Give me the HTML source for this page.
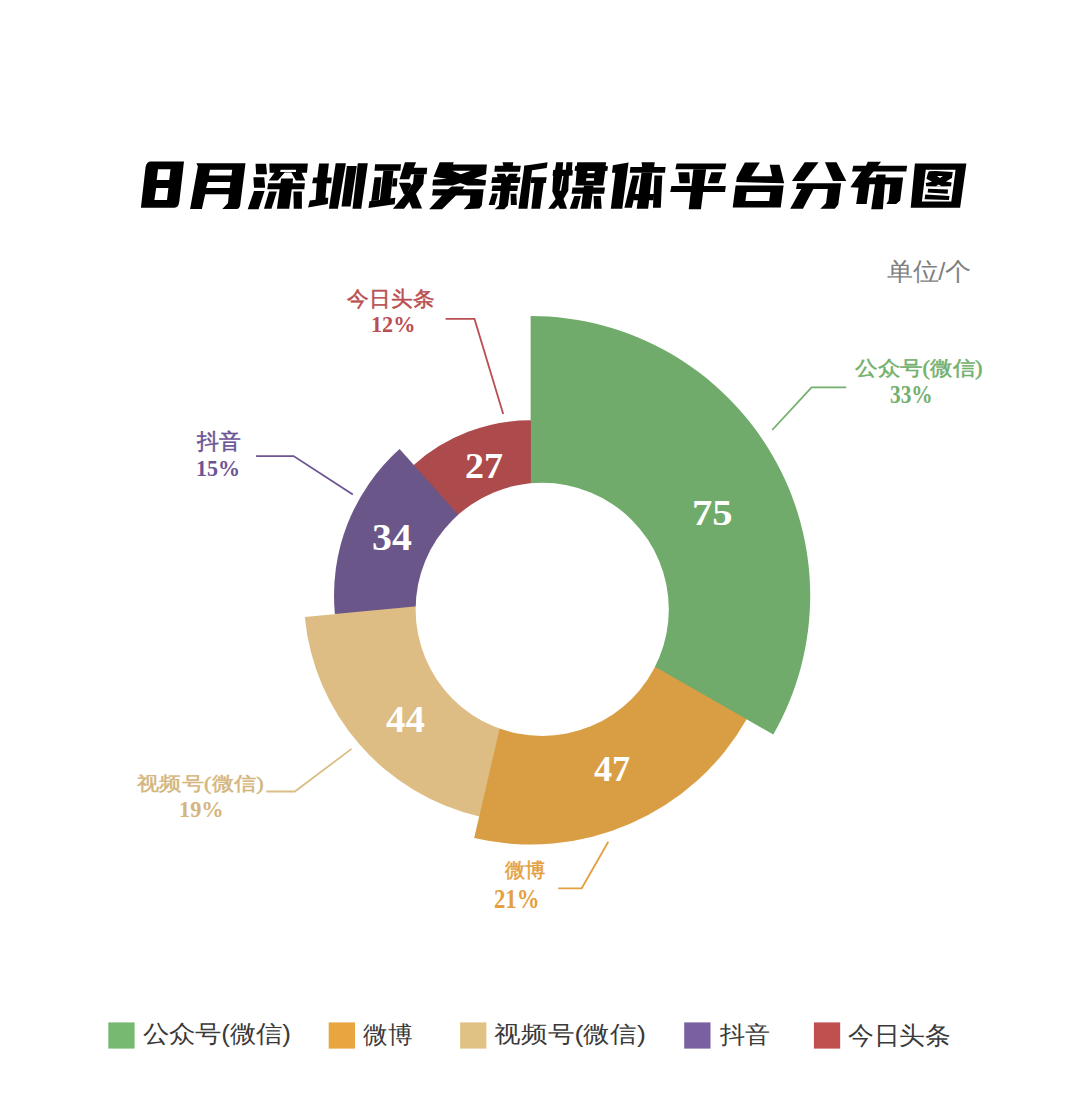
<!DOCTYPE html>
<html><head><meta charset="utf-8">
<style>
html,body{margin:0;padding:0;background:#fff;}
body{width:1080px;height:1111px;position:relative;overflow:hidden;}
svg{position:absolute;left:0;top:0;}
.t{position:absolute;white-space:nowrap;line-height:1;transform-origin:0 0;}
</style></head><body>
<svg width="1080" height="1111" viewBox="0 0 1080 1111">
<path d="M530.60,595.60 L747.05,717.06 A248.2,248.2 0 0 1 744.89,720.82 Z" fill="#70ab6b"/>
<path d="M530.60,595.60 L481.30,816.16 A226.0,226.0 0 0 1 477.46,815.26 Z" fill="#d99e43"/>
<path d="M530.60,595.60 L335.84,615.73 A195.79999999999998,195.79999999999998 0 0 1 335.52,612.32 Z" fill="#ddbd84"/>
<path d="M530.60,595.60 L413.16,466.53 A174.5,174.5 0 0 1 415.43,464.50 Z" fill="#6a5689"/>
<path d="M530.60,595.60 L529.08,421.11 A174.5,174.5 0 0 1 532.12,421.11 Z" fill="#ad4a4b"/>
<path d="M530.60,595.60 L530.60,316.00 A279.6,279.6 0 0 1 773.23,734.55 Z" fill="#70ab6b"/>
<path d="M530.60,595.60 L746.67,719.35 A249.0,249.0 0 0 1 474.16,838.12 Z" fill="#d99e43"/>
<path d="M530.60,595.60 L479.20,816.50 A226.8,226.8 0 0 1 304.81,616.94 Z" fill="#ddbd84"/>
<path d="M530.60,595.60 L334.87,614.10 A196.6,196.6 0 0 1 399.56,449.04 Z" fill="#6a5689"/>
<path d="M530.60,595.60 L413.76,464.92 A175.3,175.3 0 0 1 530.60,420.30 Z" fill="#ad4a4b"/>
<circle cx="542.2" cy="609.4" r="126.6" fill="#fff"/>
<polyline points="846.2,387.3 811.6,387.3 772.2,430" fill="none" stroke="#72b06c" stroke-width="1.8"/>
<polyline points="445.6,318.9 474.5,318.9 503.2,414" fill="none" stroke="#b94f52" stroke-width="1.8"/>
<polyline points="256.1,456.1 293.6,456.1 352.8,494.4" fill="none" stroke="#6c5494" stroke-width="1.8"/>
<polyline points="266.3,791.5 294.8,791.5 351.5,748.9" fill="none" stroke="#dcbd85" stroke-width="1.8"/>
<polyline points="558.3,888.3 581.7,888.3 608.3,841.7" fill="none" stroke="#e3a040" stroke-width="1.8"/>
<rect x="108.3" y="1022.4" width="26.3" height="26.2" fill="#78b972"/>
<rect x="328.7" y="1022.4" width="26.3" height="26.2" fill="#e8a540"/>
<rect x="460.1" y="1022.4" width="26.3" height="26.2" fill="#e0c285"/>
<rect x="684.2" y="1022.4" width="26.3" height="26.2" fill="#7a60a0"/>
<rect x="813.9" y="1022.4" width="26.3" height="26.2" fill="#c05050"/>
<path d="M151,161.4 L184,161.4 L179.3,201.6 Q178.6,207.8 174.4,207.8 L140.9,207.8 L145.6,167.1 Q146.4,161.4 151,161.4 Z M158,169.2 L170.5,169.2 L169.2,180.1 L156.7,180.1 Z M156.2,187.9 L168.4,187.9 L167,200.1 L154.4,200.1 Z M196.4,163.2 L245.5,163.2 L240.1,205.4 Q239.4,209 235.6,209 L222.3,209 L228,202.9 L228.8,194.2 L205.2,194.2 L201.9,209 L190.1,209 L197.9,166.5 Z M210,169.8 L232.2,169.8 L231.5,175.6 L208.8,175.6 Z M207.8,182 L230.4,182 L229.7,187.9 L206.1,187.9 Z" fill="#000" fill-rule="evenodd"/>
<path d="M914.9,163.4 L966.4,163.4 L960.1,207.7 L910.7,207.7 Z M925.8,169.7 L921.9,201.6 L951.3,201.6 L955.6,169.7 Z M929.1,171.2 L935.7,170.9 L952.8,172.1 L951.9,177.9 L945.9,181.5 L951.6,182.4 L951,186.3 L938.7,186 L926.1,186.3 L925.8,183 L932.1,181.8 L926.4,178.8 L927.9,173 Z M928.2,188.7 L948,189.6 L947.7,193.8 L927.6,192.6 Z M925.2,194.4 L949.5,195.9 L948.9,200.1 L924.6,199.2 Z M936.9,176.1 L942.9,176.1 L939.9,178.1 Z M936.0,186.3 L941.4,186.3 L938.7,184.6 Z" fill="#000" fill-rule="evenodd"/>
<path d="M744.9,162.4 L759.9,162.4 L751.2,176.3 L772.1,176.3 L769.7,164.7 L779.6,164.7 L784.2,183.2 L736.2,182 L736.8,177.4 Z M735.6,185.5 L783.6,185.5 L780.7,207.5 L732.7,207.5 Z M746.6,191.9 L745.4,201.1 L769.2,201.1 L770.3,191.9 Z" fill="#000" fill-rule="evenodd"/>
<path d="M676.6,163.5 L726.3,163.5 L725.2,169.3 L675.4,169.3 Z" fill="#000" fill-rule="evenodd"/>
<path d="M678.3,172.2 L689.3,172.2 L689.9,183.2 L679.5,183.2 Z" fill="#000" fill-rule="evenodd"/>
<path d="M711.3,172.2 L722.3,172.2 L718.8,183.2 L707.8,183.2 Z" fill="#000" fill-rule="evenodd"/>
<path d="M671.4,186.1 L725.8,186.1 L725,191.9 L670.2,191.9 Z" fill="#000" fill-rule="evenodd"/>
<path d="M693.4,169.3 L706.1,169.3 L700.9,209.2 L688.7,209.2 Z" fill="#000" fill-rule="evenodd"/>
<path d="M804.68,162.37 L818.56,162.37 L804.1,180.88 L791.94,180.88 Z" fill="#000" fill-rule="evenodd"/>
<path d="M824.93,162.37 L836.5,162.37 L846.34,180.88 L833.03,180.88 Z" fill="#000" fill-rule="evenodd"/>
<path d="M797.15,183.2 L841.13,183.2 L838.24,204.61 L834.77,208.66 L820.3,208.66 L826.09,202.88 L827.82,188.99 L813.36,188.99 L802.94,208.66 L790.21,208.66 L801.2,188.99 L796.0,188.99 Z" fill="#000" fill-rule="evenodd"/>
<path d="M853.29,165.84 L907.11,165.84 L906.3,171.62 L852.13,171.62 Z" fill="#000" fill-rule="evenodd"/>
<path d="M867.75,161.79 L881.06,161.79 L870.65,175.1 L860.23,187.83 L850.39,187.25 L861.39,171.62 L866.02,165.84 Z" fill="#000" fill-rule="evenodd"/>
<path d="M860.23,177.41 L903.06,177.41 L900.16,200.56 L896.11,204.03 L886.27,204.03 L888.59,200.56 L890.32,184.36 L869.49,184.36 L866.6,204.03 L856.18,204.03 L859.07,184.36 Z" fill="#000" fill-rule="evenodd"/>
<path d="M876.44,174.52 L885.69,174.52 L882.8,209.24 L871.23,209.24 Z" fill="#000" fill-rule="evenodd"/>
<path d="M319.07,163.52 L328.91,163.52 L327.18,177.41 L331.81,177.41 L331.23,183.2 L326.6,183.2 L325.44,197.67 L328.33,197.67 L327.75,204.03 L308.08,207.5 L309.81,200.56 L315.6,199.75 L316.76,183.2 L312.13,183.2 L313.29,177.41 L317.34,177.41 Z" fill="#000" fill-rule="evenodd"/>
<path d="M335.7,163.3 L345.9,163.3 L337.9,208.8 L328.9,208.8 Z" fill="#000" fill-rule="evenodd"/>
<path d="M346.9,166 L356.8,166 L350.5,206.6 L341.5,206.6 Z" fill="#000" fill-rule="evenodd"/>
<path d="M357.8,163.3 L367.8,163.3 L361.2,208.8 L352.5,208.8 Z" fill="#000" fill-rule="evenodd"/>
<path d="M255.53,163.72 L266.07,163.72 L266.97,174.25 L256.13,174.25 Z" fill="#000" fill-rule="evenodd"/>
<path d="M253.43,177.26 L264.26,177.26 L265.16,187.79 L254.03,187.79 Z" fill="#000" fill-rule="evenodd"/>
<path d="M254.03,191.1 L264.56,191.1 L258.54,209.16 L247.71,209.16 Z" fill="#000" fill-rule="evenodd"/>
<path d="M269.38,163.42 L307.89,163.42 L306.99,172.75 L301.58,172.75 L305.19,180.57 L295.86,180.57 L291.34,172.44 L284.72,172.44 L277.8,180.57 L268.77,180.57 L274.49,172.75 L269.68,172.75 Z M280.51,169.74 L296.16,169.74 L295.86,171.96 L280.21,171.96 Z" fill="#000" fill-rule="evenodd"/>
<path d="M268.17,183.28 L304.89,183.28 L304.28,189.3 L267.27,189.3 Z" fill="#000" fill-rule="evenodd"/>
<path d="M281.11,178.46 L293.15,178.46 L289.24,208.86 L276.9,208.86 Z" fill="#000" fill-rule="evenodd"/>
<path d="M269.07,191.4 L276.9,191.4 L271.48,208.86 L263.96,208.86 Z" fill="#000" fill-rule="evenodd"/>
<path d="M293.45,191.4 L301.88,191.4 L301.88,208.86 L293.75,208.86 Z" fill="#000" fill-rule="evenodd"/>
<path d="M375.13,164.32 L401.01,164.32 L400.41,170.64 L374.53,170.64 Z" fill="#000" fill-rule="evenodd"/>
<path d="M383.38,170.64 L393.49,170.64 L390.18,200.13 L379.77,200.13 Z" fill="#000" fill-rule="evenodd"/>
<path d="M392.89,178.16 L397.4,178.16 L396.8,186.59 L391.99,186.59 Z" fill="#000" fill-rule="evenodd"/>
<path d="M374.53,177.26 L381.45,177.26 L378.75,200.13 L371.22,201.03 Z" fill="#000" fill-rule="evenodd"/>
<path d="M369.42,201.33 L395.3,197.72 L394.7,204.34 L368.51,207.95 Z" fill="#000" fill-rule="evenodd"/>
<path d="M404.93,162.21 L416.06,162.21 L409.14,179.37 L399.51,179.37 Z" fill="#000" fill-rule="evenodd"/>
<path d="M407.33,167.63 L427.2,167.63 L426.59,174.25 L404.93,174.25 Z" fill="#000" fill-rule="evenodd"/>
<path d="M413.95,174.25 L424.19,174.25 L423.28,183.88 L415.16,194.71 L406.13,194.71 L411.55,185.08 L413.05,183.28 Z" fill="#000" fill-rule="evenodd"/>
<path d="M404.93,191.7 L415.16,191.7 L422.08,208.56 L412.15,208.56 Z" fill="#000" fill-rule="evenodd"/>
<path d="M407.33,191.7 L415.16,194.11 L404.02,208.86 L392.89,208.86 Z" fill="#000" fill-rule="evenodd"/>
<path d="M398.91,182.68 L409.74,182.68 L411.55,185.08 L406.13,195.32 L403.72,194.11 Z" fill="#000" fill-rule="evenodd"/>
<path d="M439.65,162.21 L453.79,162.21 L452.89,164.62 L486.89,164.62 L485.99,174.25 L473.95,178.46 L485.99,180.27 L485.39,185.38 L467.33,185.38 L460.11,182.98 L452.89,185.38 L432.43,185.38 L433.03,179.67 L446.87,178.76 L433.63,176.66 Z M452.29,170.64 L470.95,170.64 L460.71,174.37 Z" fill="#000" fill-rule="evenodd"/>
<path d="M433.03,189.3 L448.07,189.3 L451.69,186.59 L464.33,186.59 L462.52,189.3 L483.58,189.3 L481.78,205.55 L479.37,208.56 L463.72,209.16 L469.74,202.54 L470.34,195.62 L455.9,195.62 L442.06,209.16 L429.12,209.16 L442.06,195.62 L432.13,195.62 Z" fill="#000" fill-rule="evenodd"/>
<path d="M502.45,162.21 L513.29,162.21 L512.69,165.82 L520.81,165.82 L519.91,171.84 L494.33,171.84 L494.93,165.82 L503.36,165.82 Z" fill="#000" fill-rule="evenodd"/>
<path d="M496.74,173.65 L504.86,173.65 L506.67,177.26 L509.07,173.65 L517.8,173.65 L516.3,177.26 L520.51,177.26 L519.61,182.98 L491.32,182.98 L492.22,177.26 L497.64,177.26 Z" fill="#000" fill-rule="evenodd"/>
<path d="M492.52,185.38 L518.1,185.38 L517.2,191.1 L491.62,191.1 Z" fill="#000" fill-rule="evenodd"/>
<path d="M501.25,182.98 L510.88,182.98 L507.87,205.55 L504.26,209.16 L494.63,209.16 L498.84,205.55 Z" fill="#000" fill-rule="evenodd"/>
<path d="M492.22,193.51 L497.94,193.51 L494.63,204.95 L488.61,204.95 Z" fill="#000" fill-rule="evenodd"/>
<path d="M510.58,193.81 L516.3,193.81 L516.9,204.95 L510.88,204.95 Z" fill="#000" fill-rule="evenodd"/>
<path d="M524.42,165.82 L532.55,165.82 L527.43,208.86 L518.4,208.86 Z" fill="#000" fill-rule="evenodd"/>
<path d="M524.42,165.82 L547.59,162.21 L546.69,167.93 L524.12,171.54 Z" fill="#000" fill-rule="evenodd"/>
<path d="M531.34,177.26 L546.69,177.26 L545.79,182.98 L530.74,182.98 Z" fill="#000" fill-rule="evenodd"/>
<path d="M534.35,182.98 L543.68,182.98 L540.07,208.86 L531.34,208.86 Z" fill="#000" fill-rule="evenodd"/>
<path d="M556.23,162.21 L563.15,162.21 L562.55,169.74 L565.86,169.74 L566.46,162.21 L572.48,162.21 L571.88,169.74 L572.78,170.34 L572.48,175.45 L568.87,175.76 L568.27,190.8 L563.45,198.93 L567.07,208.86 L559.84,208.86 L558.04,204.95 L554.43,208.86 L548.11,208.86 L555.63,198.93 L552.32,191.4 L553.22,176.06 L552.62,175.45 L553.22,170.04 L555.03,169.74 Z M562.25,176.06 L563.45,176.06 L561.05,190.8 L559.54,190.8 Z" fill="#000" fill-rule="evenodd"/>
<path d="M577.3,162.21 L606.19,162.21 L605.58,165.82 L607.99,166.43 L607.39,170.64 L605.28,170.94 L603.18,185.38 L575.49,185.38 L576.7,170.94 L574.59,170.64 L575.19,166.13 L576.7,165.82 Z M587.53,170.94 L594.75,170.94 L594.45,173.35 L587.23,173.35 Z M586.33,178.16 L594.15,178.16 L593.85,180.87 L586.02,180.87 Z" fill="#000" fill-rule="evenodd"/>
<path d="M572.48,187.49 L604.98,187.49 L604.08,193.81 L571.58,193.81 Z" fill="#000" fill-rule="evenodd"/>
<path d="M583.92,185.38 L593.55,185.38 L590.54,208.86 L580.91,208.86 Z" fill="#000" fill-rule="evenodd"/>
<path d="M574.29,195.92 L580.91,195.92 L577.3,208.86 L569.77,208.86 Z" fill="#000" fill-rule="evenodd"/>
<path d="M593.55,195.92 L600.77,195.92 L601.67,208.86 L594.15,208.86 Z" fill="#000" fill-rule="evenodd"/>
<path d="M612.92,165.22 L628.57,162.51 L622.25,208.86 L610.81,208.86 L615.33,172.75 L612.02,172.75 Z" fill="#000" fill-rule="evenodd"/>
<path d="M641.51,162.21 L654.75,162.21 L654.15,167.03 L665.58,167.03 L664.98,172.75 L629.77,172.75 L630.38,167.03 L642.11,167.03 L641.81,164.62 Z" fill="#000" fill-rule="evenodd"/>
<path d="M641.51,172.75 L652.34,172.75 L648.13,208.86 L636.7,208.86 Z" fill="#000" fill-rule="evenodd"/>
<path d="M632.48,175.45 L639.4,175.45 L631.88,207.65 L624.36,207.65 Z" fill="#000" fill-rule="evenodd"/>
<path d="M654.45,175.45 L662.27,175.45 L660.77,207.65 L652.95,207.65 Z" fill="#000" fill-rule="evenodd"/>
<path d="M634.29,194.11 L654.15,194.11 L653.55,200.13 L633.38,200.13 Z" fill="#000" fill-rule="evenodd"/>
</svg>
<div class="t" style="left:886.89px;top:259.89px;font-family:'Liberation Sans',sans-serif;font-size:23px;font-weight:400;color:#7f7f7f;transform:scale(1.1147,1.0675);">单位/个</div>
<div class="t" style="left:854.59px;top:359.23px;font-family:'Liberation Serif',serif;font-size:22px;font-weight:400;color:#72b06c;transform:scale(1.0238,0.9088);-webkit-text-stroke:0.5px #72b06c;">公众号(微信)</div>
<div class="t" style="left:889.61px;top:382.60px;font-family:'Liberation Serif',serif;font-size:23px;font-weight:700;color:#72b06c;transform:scale(0.9291,1.0673);">33%</div>
<div class="t" style="left:347.28px;top:288.58px;font-family:'Liberation Serif',serif;font-size:22px;font-weight:400;color:#b94f52;transform:scale(1.0019,0.9705);-webkit-text-stroke:0.5px #b94f52;">今日头条</div>
<div class="t" style="left:371.33px;top:312.70px;font-family:'Liberation Serif',serif;font-size:23px;font-weight:700;color:#b94f52;transform:scale(0.9672,0.9957);">12%</div>
<div class="t" style="left:197.04px;top:431.25px;font-family:'Liberation Serif',serif;font-size:22px;font-weight:400;color:#6c5494;transform:scale(0.9853,0.9889);-webkit-text-stroke:0.5px #6c5494;">抖音</div>
<div class="t" style="left:195.57px;top:456.91px;font-family:'Liberation Serif',serif;font-size:23px;font-weight:700;color:#6c5494;transform:scale(0.9574,1.0139);">15%</div>
<div class="t" style="left:136.68px;top:774.12px;font-family:'Liberation Serif',serif;font-size:22px;font-weight:400;color:#d4b57c;transform:scale(1.0169,0.8701);-webkit-text-stroke:0.5px #d4b57c;">视频号(微信)</div>
<div class="t" style="left:179.24px;top:796.99px;font-family:'Liberation Serif',serif;font-size:23px;font-weight:700;color:#d4b57c;transform:scale(0.9708,1.0391);">19%</div>
<div class="t" style="left:504.73px;top:861.17px;font-family:'Liberation Serif',serif;font-size:22px;font-weight:400;color:#e3a040;transform:scale(0.9245,0.9115);-webkit-text-stroke:0.5px #e3a040;">微博</div>
<div class="t" style="left:494.08px;top:885.87px;font-family:'Liberation Serif',serif;font-size:23px;font-weight:700;color:#e3a040;transform:scale(0.9881,1.1447);">21%</div>
<div class="t" style="left:692.26px;top:494.31px;font-family:'Liberation Serif',serif;font-size:36px;font-weight:700;color:#fff;transform:scale(1.1264,1.0213);">75</div>
<div class="t" style="left:593.93px;top:751.18px;font-family:'Liberation Serif',serif;font-size:36px;font-weight:700;color:#fff;transform:scale(1.0067,0.9872);">47</div>
<div class="t" style="left:386.14px;top:701.10px;font-family:'Liberation Serif',serif;font-size:36px;font-weight:700;color:#fff;transform:scale(1.0785,1.0375);">44</div>
<div class="t" style="left:371.52px;top:519.37px;font-family:'Liberation Serif',serif;font-size:36px;font-weight:700;color:#fff;transform:scale(1.1056,1.0297);">34</div>
<div class="t" style="left:464.90px;top:448.46px;font-family:'Liberation Serif',serif;font-size:36px;font-weight:700;color:#fff;transform:scale(1.0556,1.0050);">27</div>
<div class="t" style="left:142.98px;top:1022.00px;font-family:'Liberation Sans',sans-serif;font-size:26px;font-weight:400;color:#3a3a3a;transform:scale(1.0039,0.9130);">公众号(微信)</div>
<div class="t" style="left:363.05px;top:1022.49px;font-family:'Liberation Sans',sans-serif;font-size:26px;font-weight:400;color:#3a3a3a;transform:scale(0.9646,0.9394);">微博</div>
<div class="t" style="left:494.42px;top:1022.39px;font-family:'Liberation Sans',sans-serif;font-size:26px;font-weight:400;color:#3a3a3a;transform:scale(1.0312,0.8938);">视频号(微信)</div>
<div class="t" style="left:719.63px;top:1023.37px;font-family:'Liberation Sans',sans-serif;font-size:26px;font-weight:400;color:#3a3a3a;transform:scale(0.9663,0.9238);">抖音</div>
<div class="t" style="left:848.21px;top:1022.96px;font-family:'Liberation Sans',sans-serif;font-size:26px;font-weight:400;color:#3a3a3a;transform:scale(0.9872,0.9563);">今日头条</div>
</body></html>
